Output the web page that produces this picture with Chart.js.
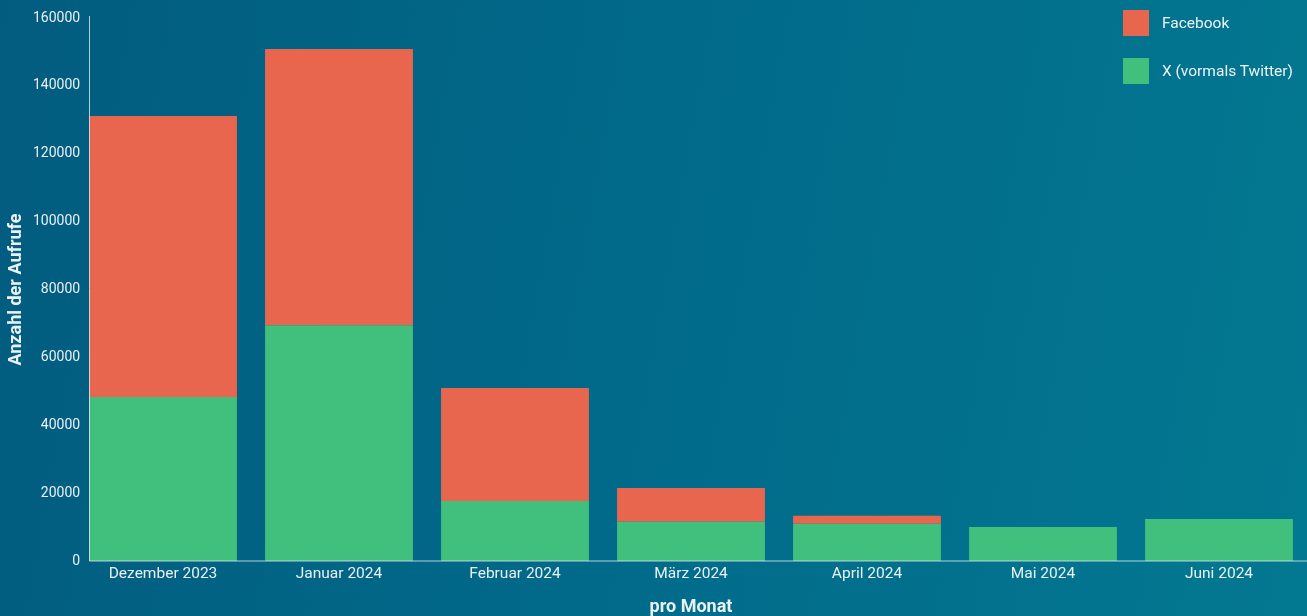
<!DOCTYPE html>
<html lang="de">
<head>
<meta charset="utf-8">
<title>Aufrufe pro Monat</title>
<script src="https://cdn.jsdelivr.net/npm/chart.js@4.4.1/dist/chart.umd.min.js"></script>
<style>
  html, body { margin: 0; padding: 0; }
  body {
    width: 1307px;
    height: 616px;
    overflow: hidden;
    background: linear-gradient(100deg, #025c7f 0%, #016a8a 50%, #037891 100%);
    font-family: Roboto, "Liberation Sans", sans-serif;
    position: relative;
  }
  #wrap { position: absolute; left: 0; top: 0; width: 1307px; height: 616px; }
  .legend { position: absolute; left: 1123px; top: 10px; color: #eef4f6; font-size: 15.5px; }
  .legend .item { display: flex; align-items: center; height: 26px; margin-bottom: 22px; }
  .legend .box { width: 26px; height: 26px; margin-right: 13px; }
</style>
</head>
<body>
<div id="wrap"><canvas id="chart" width="1307" height="616"></canvas></div>
<div class="legend" id="legend"></div>
<script>
// Monate und Aufrufe
const months = ['Dezember 2023', 'Januar 2024', 'Februar 2024', 'März 2024', 'April 2024', 'Mai 2024', 'Juni 2024'];
const facebookViews = [82800, 81400, 33300, 9900, 2300, 0, 0];
const xViews = [48300, 69500, 17700, 11600, 11000, 10000, 12400];
const yTicks = [0, 20000, 40000, 60000, 80000, 100000, 120000, 140000, 160000];

const colors = {
  facebook: '#e9664e',
  x: '#41bf7c',
  text: '#eaf1f4',
  axis: 'rgba(225, 235, 240, 0.8)'
};

// axis lines start at the left edge of the first bar, like the original
const axisLines = {
  id: 'axisLines',
  afterDatasetsDraw(chart) {
    const ctx = chart.ctx;
    const bar = chart.getDatasetMeta(0).data[0];
    const left = Math.round(bar.x - bar.width / 2) + 0.5;
    const yScale = chart.scales.y;
    const top = yScale.getPixelForValue(yTicks[yTicks.length - 1]);
    const bottom = yScale.getPixelForValue(0);
    ctx.save();
    ctx.strokeStyle = colors.axis;
    ctx.lineWidth = 1;
    ctx.beginPath();
    ctx.moveTo(left, top - 2);
    ctx.lineTo(left, bottom);
    ctx.lineTo(chart.chartArea.right, bottom);
    ctx.stroke();
    ctx.restore();
  }
};

const chart = new Chart(document.getElementById('chart').getContext('2d'), {
  type: 'bar',
  data: {
    labels: months,
    datasets: [
      {
        label: 'X (vormals Twitter)',
        data: xViews,
        backgroundColor: colors.x,
        borderWidth: 0
      },
      {
        label: 'Facebook',
        data: facebookViews,
        backgroundColor: colors.facebook,
        borderWidth: 0
      }
    ]
  },
  options: {
    responsive: false,
    animation: false,
    layout: { padding: { left: 0, right: 0, top: 18, bottom: 0 } },
    datasets: { bar: { barPercentage: 1, categoryPercentage: 0.84 } },
    plugins: {
      legend: { display: false },
      tooltip: { enabled: false }
    },
    scales: {
      x: {
        stacked: true,
        grid: { display: false, drawTicks: false },
        border: { display: false },
        ticks: { color: colors.text, font: { family: 'Roboto', size: 15.5 }, padding: 4, maxRotation: 0 },
        title: {
          display: true,
          text: 'pro Monat',
          color: colors.text,
          font: { family: 'Roboto', size: 18, weight: 'bold' },
          padding: { top: 0, bottom: -2 }
        },
        afterFit(scale) { scale.height = 55; }
      },
      y: {
        stacked: true,
        min: 0,
        max: 160000,
        afterBuildTicks(scale) { scale.ticks = yTicks.map(v => ({ value: v })); },
        grid: { display: false, drawTicks: false },
        border: { display: false },
        // mirrored + far alignment so the labels may reach past the axis box, right-aligned at x≈80
        ticks: {
          color: colors.text,
          font: { family: 'Roboto', size: 14 },
          mirror: true,
          crossAlign: 'far',
          padding: -42,
          callback: v => String(v)
        },
        title: {
          display: true,
          text: 'Anzahl der Aufrufe',
          color: colors.text,
          font: { family: 'Roboto', size: 18, weight: 'bold' },
          padding: { top: 6, bottom: 0 }
        },
        afterFit(scale) { scale.width = 75; }
      }
    }
  },
  plugins: [axisLines]
});

// HTML-Legende oben rechts
const legendEl = document.getElementById('legend');
[...chart.data.datasets].reverse().forEach(ds => {
  const item = document.createElement('div');
  item.className = 'item';
  const box = document.createElement('span');
  box.className = 'box';
  box.style.background = ds.backgroundColor;
  const label = document.createElement('span');
  label.textContent = ds.label;
  item.appendChild(box);
  item.appendChild(label);
  legendEl.appendChild(item);
});
</script>
</body>
</html>
